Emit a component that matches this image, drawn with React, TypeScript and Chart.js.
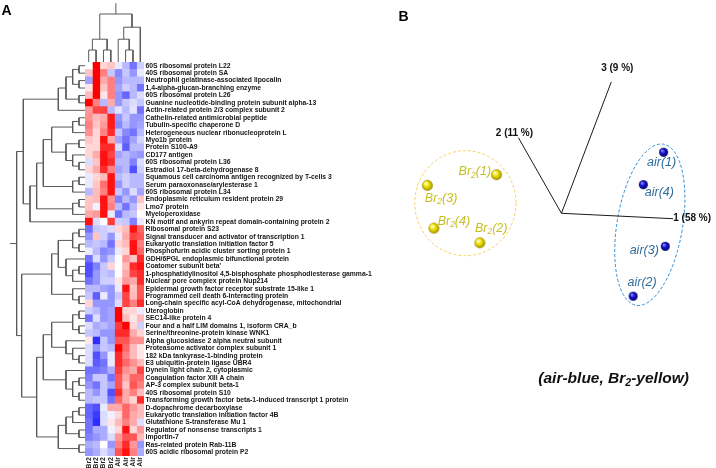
import React, { useEffect, useRef } from "react";
import { Chart, registerables } from "chart.js";
Chart.register(...registerables);

// ---------------- DATA ----------------
const PROTEINS = [
  "60S ribosomal protein L22",
  "40S ribosomal protein SA",
  "Neutrophil gelatinase-associated lipocalin",
  "1,4-alpha-glucan-branching enzyme",
  "60S ribosomal protein L26",
  "Guanine nucleotide-binding protein subunit alpha-13",
  "Actin-related protein 2/3 complex subunit 2",
  "Cathelin-related antimicrobial peptide",
  "Tubulin-specific chaperone D",
  "Heterogeneous nuclear ribonucleoprotein L",
  "Myo1b protein",
  "Protein S100-A9",
  "CD177 antigen",
  "60S ribosomal protein L36",
  "Estradiol 17-beta-dehydrogenase 8",
  "Squamous cell carcinoma antigen recognized by T-cells 3",
  "Serum paraoxonase/arylesterase 1",
  "60S ribosomal protein L34",
  "Endoplasmic reticulum resident protein 29",
  "Lmo7 protein",
  "Myeloperoxidase",
  "KN motif and ankyrin repeat domain-containing protein 2",
  "Ribosomal protein S23",
  "Signal transducer and activator of transcription 1",
  "Eukaryotic translation initiation factor 5",
  "Phosphofurin acidic cluster sorting protein 1",
  "GDH/6PGL endoplasmic bifunctional protein",
  "Coatomer subunit beta'",
  "1-phosphatidylinositol 4,5-bisphosphate phosphodiesterase gamma-1",
  "Nuclear pore complex protein Nup214",
  "Epidermal growth factor receptor substrate 15-like 1",
  "Programmed cell death 6-interacting protein",
  "Long-chain specific acyl-CoA dehydrogenase, mitochondrial",
  "Uteroglobin",
  "SEC14-like protein 4",
  "Four and a half LIM domains 1, isoform CRA_b",
  "Serine/threonine-protein kinase WNK1",
  "Alpha glucosidase 2 alpha neutral subunit",
  "Proteasome activator complex subunit 1",
  "182 kDa tankyrase-1-binding protein",
  "E3 ubiquitin-protein ligase UBR4",
  "Dynein light chain 2, cytoplasmic",
  "Coagulation factor XIII A chain",
  "AP-3 complex subunit beta-1",
  "40S ribosomal protein S10",
  "Transforming growth factor beta-1-induced transcript 1 protein",
  "D-dopachrome decarboxylase",
  "Eukaryotic translation initiation factor 4B",
  "Glutathione S-transferase Mu 1",
  "Regulator of nonsense transcripts 1",
  "Importin-7",
  "Ras-related protein Rab-11B",
  "60S acidic ribosomal protein P2",
];

const SAMPLE_LABELS = ["Br2", "Br2", "Br2", "Br2", "Air", "Air", "Air", "Air"];

// scaled expression (z-score like), one array per sample column, rows in PROTEINS order
const BR2_S1 = [0, 0.7, -1.3, 0.3, 0.8, 3, 1.2, 1.3, 1.5, 1.3, 0.7, 0.5, 0.5, -0.5, 0.5, -0.3, -0.3, -1, 0.7, 0.7, 1, 2.8, -2, -1.5, -1, -0.3, -2, -2.5, -2.5, -2, -1, -0.8, 0.5, -0.7, -2, -0.5, -0.8, 0.3, -0.5, -0.5, -0.5, -2, -1.8, -1.5, -1, -1, -2.2, -2.2, -2, -2, -1.8, -1.2, -1.5];
const BR2_S2 = [3, 3, 3, 3, 3, 1.5, 2.2, 0.8, 0.7, 0.5, 0.5, 0.5, 1, 0.7, 1, 0.5, 0.7, 0.8, 0.8, -0.2, 1.2, -0.5, -0.8, 0.7, -0.8, -1, -0.5, -1.8, -1.5, -1.5, -1, -2.3, -1.5, -1, -0.5, -1.2, -1, -3, -1.5, -2.5, -2.3, -2, -0.8, -2, -1.5, -0.8, -2.5, -2.8, -3, -1.2, -1.5, -1, -1.2];
const BR2_S3 = [0.5, 1.5, 1, 0.7, 0.3, -1, 2.2, 1, 1.2, 1.5, 2.8, 2.5, 2.8, 2.8, 2.5, 0.8, 1.7, 1.5, 2.8, 2.8, 2.8, 0, -0.7, -0.7, -1, -1.7, -1.5, -0.8, -0.8, -0.7, -1.3, -0.3, -1.5, -1.5, -1.5, -1, -1.5, -0.8, -0.8, -1.5, -2, -1.8, -0.8, -0.8, -0.8, -0.8, -0.3, -0.5, -0.5, -1.2, -1.2, 0, -0.5];
const BR2_S4 = [0.7, -0.8, 1.5, 1.5, 1.5, 1, -1, 2.7, 2.7, 2.5, 1, 2.5, 2.2, 2.5, 1.5, 2.8, 2.8, 2.8, 1.3, 1.5, -0.3, 2.3, -0.5, -1.5, -2, -1.5, -0.8, 0.5, -1, -0.7, -1.5, -1.5, -1.5, -1.3, -1.3, -1.3, -1.5, -1.5, -1, -0.3, -0.3, -1.2, -2, -1.3, -2.5, -2, 1, -0.2, 0.3, -0.2, -0.5, -1.5, -1];
const AIR_S1 = [-0.3, -1.7, -1.5, -1.3, -1.5, -1.5, -0.4, -1.5, -1.7, -0.8, -1.3, -0.5, -1.3, -1, -1.3, -1, -1.5, -0.8, -1.8, -1, -2, -0.7, 0.5, -0.3, 0.5, -0.3, 0, 0, 0, 0.3, -0.3, -0.8, -0.5, 3, 3, 2.3, 2.5, 2, 3, 2.5, 2.5, 2.3, 2, 2, 2.5, 1.8, 1, 0.5, 0.8, 0.5, 1.2, 1.5, 2];
const AIR_S2 = [-1, -0.8, -1, -0.7, -2.2, -0.8, -1, -0.8, -1, -1.7, -2, -2.3, -1, -1, -1, -0.7, -0.7, -1.5, -1, -2, -1, -0.8, 0.8, 1, 0.8, 0.5, 1.2, 0.8, 1, 1.2, 2.8, 2.2, 2.2, 0.5, 0.8, 3, 2.5, 2, 1.8, 1.5, 1.8, 1.3, 1, 0.7, 1, 1, 1.8, 1.8, 1.5, 2.8, 2, 2.5, 2.8];
const AIR_S3 = [-2, -1.5, -1, -1, -1, -0.5, -0.4, -1.5, -1.5, -2, -1.3, -1, -1.3, -1.8, -2.5, -1, -1, -0.5, -1.5, -1, -0.8, -1.8, 2.8, 2.2, 2.8, 2.8, 0.7, 2.5, 2.2, 1, 0.7, 0.8, 1.5, 0.5, 0.3, 0.5, 1, 1.3, 0.8, 0.8, 1.3, 1, 1.8, 2, 1.5, 0.5, 1.2, 1, 1, 0.5, 2, 1.2, 1.5];
const AIR_S4 = [-0.7, -0.3, -1, -2, -0.5, -0.8, -2, -1.5, -1.3, -1, -0.6, -1, -1.5, -0.5, -0.7, -1, -1, -1.3, 0.7, 0.3, 0, -0.3, 1.8, 2, 1.5, 1.8, 2.5, 2.8, 2.5, 2.5, 2, 2, 2.5, -0.3, 0.8, -0.7, 0.5, 1.3, 0.3, 0.3, 0.8, 2.2, 1.8, 1.5, 0.8, 2.5, 0.8, 0.8, -0.5, 1.2, 0.8, -1.5, -1.2];
const SAMPLE_COLUMNS = [BR2_S1, BR2_S2, BR2_S3, BR2_S4, AIR_S1, AIR_S2, AIR_S3, AIR_S4];

// dendrograms: leaf index or [merge height, left, right]
type Tree = number | [number, Tree, Tree];
const ROW_TREE: Tree = [10.25,
  [9.25,
    [4.0, [2.85, [1.85, [0.9, 0, 1], [0.9, 2, 3]], [0.9, 4, 5]], 6],
    [8.25,
      [7.25,
        [6.25,
          [5.0, [1.85, [0.9, 7, 8], 9], [2.85, [0.9, 10, 11], [1.85, 12, [0.9, 13, 14]]]],
          [1.85, [0.9, 15, 16], 17]],
        [1.85, [0.9, 18, 19], 20]],
      21]],
  [9.5,
    [5.0,
      [4.0, [1.85, [0.9, 22, 23], [0.9, 24, 25]], [2.85, 26, [1.85, [0.9, 27, 28], 29]]],
      [1.85, 30, [0.9, 31, 32]]],
    [7.25,
      [6.25,
        [5.0, [1.85, [0.9, 33, 34], [0.9, 35, 36]], [2.85, 37, [1.85, 38, [0.9, 39, 40]]]],
        [2.85, 41, [1.85, [0.9, 42, 43], [0.9, 44, 45]]]],
      [4.0, [2.85, [1.85, [0.9, 46, 47], 48], [0.9, 49, 50]], [0.9, 51, 52]]]]];
const COL_TREE: Tree = [4.0, [1.9, [1.0, 0, 1], [1.0, 2, 3]], [2.9, [1.9, 4, [1.0, 5, 6]], 7]];

// PCA (projected 3D scores)
const PC_AXIS_NAMES = ["1 (58 %)", "2 (11 %)", "3 (9 %)"];
const PC_AXIS_END_X = [116, -44.6, 51.7];
const PC_AXIS_END_Y = [-5.6, 77.7, 135];
const BR2_NAMES = ["Br2(1)", "Br2(2)", "Br2(3)", "Br2(4)"];
const BR2_PC_X = [-67.3, -84.6, -139, -132.3];
const BR2_PC_Y = [39.7, -30.3, 28.7, -15.3];
const AIR_NAMES = ["air(1)", "air(2)", "air(3)", "air(4)"];
const AIR_PC_X = [106, 74.4, 107.7, 85];
const AIR_PC_Y = [62.7, -85.3, -34, 29.4];
const CAPTION = "(air-blue, Br2-yellow)";

// ---------------- STYLE / LAYOUT ----------------
const FONT = '"Liberation Sans", Arial, sans-serif';
const HM_LEFT = 85, HM_TOP = 62, HM_BOTTOM_GAP = 12, HM_CANVAS_W = 400, HM_LABEL_W = 256;
const ROW_DENDRO_PX_PER_UNIT = 6.67;
const COL_DENDRO_PX_PER_UNIT = 12;
const BR2_LABEL_OFF = [[-21.7, -3], [11.3, -14.3], [13.7, 12.7], [20, -7]];
const AIR_LABEL_OFF = [[-2, 10.7], [9, -14], [-21, 4.3], [16, 7.7]];
const PC_LABEL_OFF = [[0, 0, "left"], [-4, -4.3, "center"], [6, -13.7, "center"]];
const ELLIPSES = [
  { cx: -99.6, cy: 10.4, rx: 52.5, ry: 54, rot: 0, color: "#f5cf5f", dash: [3, 2] },
  { cx: 91.7, cy: -11.8, rx: 34, ry: 84, rot: 0.168, color: "#2a8ad6", dash: [3, 2] },
];

function heatColor(v: number) {
  const t = Math.max(-1, Math.min(1, v / 3));
  if (t >= 0) {
    const c = Math.round(255 * (1 - t));
    return `rgb(255,${c},${c})`;
  }
  const a = -t;
  const c = Math.round(255 - 210 * a);
  return `rgb(${c},${c},255)`;
}

function dendroPoints(tree: Tree, stub: number, horizontal: boolean) {
  const pts: { x: number; y: number }[] = [];
  const P = (pos: number, h: number) => (horizontal ? { x: h, y: pos } : { x: pos, y: h });
  const walk = (n: Tree): { pos: number; h: number } => {
    if (typeof n === "number") return { pos: n, h: 0 };
    const [h, l, r] = n;
    const a = walk(l), b = walk(r);
    pts.push(P(a.pos, a.h), P(a.pos, h), P(b.pos, h), P(b.pos, b.h), { x: NaN, y: NaN });
    return { pos: (a.pos + b.pos) / 2, h };
  };
  const root = walk(tree);
  pts.push(P(root.pos, root.h), P(root.pos, root.h + stub));
  return pts;
}

function drawRich(ctx: CanvasRenderingContext2D, text: string, x: number, y: number,
  size: number, style: string, align: string) {
  const m = text.match(/^(.*?Br)2(.*)$/);
  const parts = m ? [{ t: m[1], s: false }, { t: "2", s: true }, { t: m[2], s: false }] : [{ t: text, s: false }];
  const fontOf = (sub: boolean) => `${style} ${sub ? size * 0.68 : size}px ${FONT}`;
  let total = 0;
  const widths = parts.map((p) => { ctx.font = fontOf(p.s); const w = ctx.measureText(p.t).width; total += w; return w; });
  let cx = align === "center" ? x - total / 2 : align === "right" ? x - total : x;
  ctx.textAlign = "left";
  ctx.textBaseline = "middle";
  parts.forEach((p, i) => {
    ctx.font = fontOf(p.s);
    ctx.fillText(p.t, cx, p.s ? y + size * 0.28 : y);
    cx += widths[i];
  });
}

function makeSphere(r: number, light: string, base: string, dark: string) {
  const size = Math.ceil(r * 2) + 2;
  const cv = document.createElement("canvas");
  cv.width = size; cv.height = size;
  const g = cv.getContext("2d")!;
  const c = size / 2;
  const grad = g.createRadialGradient(c - r * 0.35, c - r * 0.4, r * 0.1, c, c, r);
  grad.addColorStop(0, light);
  grad.addColorStop(0.45, base);
  grad.addColorStop(1, dark);
  g.fillStyle = grad;
  g.beginPath();
  g.arc(c, c, r, 0, Math.PI * 2);
  g.fill();
  return cv;
}

const baseOpts = {
  responsive: false,
  animation: false as const,
  devicePixelRatio: 1,
  events: [] as any[],
};

export default function App() {
  const hmRef = useRef<HTMLCanvasElement>(null);
  const rdRef = useRef<HTMLCanvasElement>(null);
  const cdRef = useRef<HTMLCanvasElement>(null);
  const pcaRef = useRef<HTMLCanvasElement>(null);

  useEffect(() => {
    document.body.style.margin = "0";
    const charts: Chart[] = [];

    // ---------- heatmap ----------
    charts.push(new Chart(hmRef.current!, {
      type: "bar",
      data: {
        labels: PROTEINS,
        datasets: SAMPLE_COLUMNS.map((col, i) => ({
          label: SAMPLE_LABELS[i],
          data: col.map(() => 1),
          backgroundColor: col.map(heatColor),
          borderWidth: 0,
          categoryPercentage: 1,
          barPercentage: 1,
        })),
      },
      options: {
        ...baseOpts,
        indexAxis: "y",
        layout: { padding: { left: HM_LEFT, top: HM_TOP, right: 0, bottom: 0 } },
        plugins: { legend: { display: false }, tooltip: { enabled: false } },
        scales: {
          x: { stacked: true, min: 0, max: SAMPLE_LABELS.length, display: false },
          x2: {
            type: "category", axis: "x", position: "bottom", labels: SAMPLE_LABELS, offset: true,
            grid: { display: false, drawTicks: false }, border: { display: false },
            ticks: { autoSkip: false, minRotation: 90, maxRotation: 90, padding: 1, color: "#222",
              font: { family: FONT, size: 7, weight: "bold" } },
            afterFit: (s: any) => { s.height = HM_BOTTOM_GAP; },
          },
          y: {
            stacked: true, position: "right",
            grid: { display: false, drawTicks: false }, border: { display: false },
            ticks: { autoSkip: false, padding: 1.5, color: "#161616",
              font: { family: FONT, size: 6.8, weight: "bold" } },
            afterFit: (s: any) => { s.width = HM_LABEL_W; },
          },
        } as any,
      },
    } as any));

    // ---------- row dendrogram ----------
    const rdW = HM_LEFT + 1;
    charts.push(new Chart(rdRef.current!, {
      type: "scatter",
      data: {
        datasets: [{
          data: dendroPoints(ROW_TREE, 1.0, true),
          showLine: true, pointRadius: 0, borderColor: "#5a5a5a", borderWidth: 1, clip: false,
        }],
      },
      options: {
        ...baseOpts,
        layout: { padding: { left: 0, right: 1, top: HM_TOP, bottom: HM_BOTTOM_GAP } },
        plugins: { legend: { display: false }, tooltip: { enabled: false } },
        scales: {
          x: { type: "linear", reverse: true, min: 0, max: HM_LEFT / ROW_DENDRO_PX_PER_UNIT, display: false },
          y: { type: "linear", reverse: true, min: -0.5, max: PROTEINS.length - 0.5, display: false },
        },
      },
      plugins: [{
        id: "panelA",
        afterDraw(chart: any) {
          const ctx = chart.ctx;
          ctx.save();
          ctx.fillStyle = "#000";
          ctx.font = `bold 14px ${FONT}`;
          ctx.textAlign = "left";
          ctx.textBaseline = "alphabetic";
          ctx.fillText("A", 1.5, 15);
          ctx.restore();
        },
      }],
    } as any));

    // ---------- column dendrogram ----------
    charts.push(new Chart(cdRef.current!, {
      type: "scatter",
      data: {
        datasets: [{
          data: dendroPoints(COL_TREE, 0.9, false),
          showLine: true, pointRadius: 0, borderColor: "#5a5a5a", borderWidth: 1, clip: false,
        }],
      },
      options: {
        ...baseOpts,
        layout: { padding: 0 },
        plugins: { legend: { display: false }, tooltip: { enabled: false } },
        scales: {
          x: { type: "linear", min: -0.5, max: SAMPLE_LABELS.length - 0.5, display: false },
          y: { type: "linear", min: 0, max: HM_TOP / COL_DENDRO_PX_PER_UNIT, display: false },
        },
      },
    } as any));

    // ---------- PCA ----------
    const ySphere = makeSphere(5.4, "#ffffd8", "#eee400", "#9c8c00");
    const bSphere = makeSphere(4.5, "#8c8cff", "#1414d2", "#00005a");
    const axisPts: { x: number; y: number }[] = [];
    PC_AXIS_END_X.forEach((x, i) => {
      axisPts.push({ x: 0, y: 0 }, { x, y: PC_AXIS_END_Y[i] }, { x: NaN, y: NaN });
    });
    charts.push(new Chart(pcaRef.current!, {
      type: "scatter",
      data: {
        datasets: [
          { data: axisPts, showLine: true, pointRadius: 0, borderColor: "#1a1a1a", borderWidth: 1, clip: false },
          { data: BR2_PC_X.map((x, i) => ({ x, y: BR2_PC_Y[i] })), pointStyle: ySphere, pointRadius: 5.4, clip: false },
          { data: AIR_PC_X.map((x, i) => ({ x, y: AIR_PC_Y[i] })), pointStyle: bSphere, pointRadius: 4.5, clip: false },
        ],
      },
      options: {
        ...baseOpts,
        layout: { padding: 0 },
        plugins: { legend: { display: false }, tooltip: { enabled: false } },
        scales: {
          x: { type: "linear", min: -202.3, max: 153.7, display: false },
          y: { type: "linear", min: -255.3, max: 212.7, display: false },
        },
      },
      plugins: [{
        id: "pcaDecor",
        beforeDatasetsDraw(chart: any) {
          const { ctx, scales: { x, y } } = chart;
          const kx = x.getPixelForValue(1) - x.getPixelForValue(0);
          const ky = y.getPixelForValue(0) - y.getPixelForValue(1);
          ctx.save();
          ELLIPSES.forEach((e) => {
            ctx.beginPath();
            ctx.setLineDash(e.dash);
            ctx.strokeStyle = e.color;
            ctx.lineWidth = 1;
            ctx.ellipse(x.getPixelForValue(e.cx), y.getPixelForValue(e.cy), e.rx * kx, e.ry * ky, e.rot, 0, Math.PI * 2);
            ctx.stroke();
          });
          ctx.restore();
        },
        afterDatasetsDraw(chart: any) {
          const { ctx, scales: { x, y }, chartArea } = chart;
          ctx.save();
          ctx.fillStyle = "#111";
          PC_AXIS_NAMES.forEach((name, i) => {
            const [dx, dy, al] = PC_LABEL_OFF[i] as [number, number, string];
            drawRich(ctx, name, x.getPixelForValue(PC_AXIS_END_X[i]) + dx, y.getPixelForValue(PC_AXIS_END_Y[i]) + dy, 10, "bold", al);
          });
          ctx.fillStyle = "#c6bf22";
          BR2_NAMES.forEach((name, i) => {
            const [dx, dy] = BR2_LABEL_OFF[i];
            drawRich(ctx, name, x.getPixelForValue(BR2_PC_X[i]) + dx, y.getPixelForValue(BR2_PC_Y[i]) + dy, 12.5, "italic", "center");
          });
          ctx.fillStyle = "#2f6c9c";
          AIR_NAMES.forEach((name, i) => {
            const [dx, dy] = AIR_LABEL_OFF[i];
            drawRich(ctx, name, x.getPixelForValue(AIR_PC_X[i]) + dx, y.getPixelForValue(AIR_PC_Y[i]) + dy, 12.5, "italic", "center");
          });
          ctx.fillStyle = "#111";
          drawRich(ctx, CAPTION, chartArea.left + 247.2, chartArea.top + 372.3, 15.5, "italic bold", "center");
          ctx.fillStyle = "#000";
          ctx.font = `bold 14px ${FONT}`;
          ctx.textAlign = "left";
          ctx.textBaseline = "alphabetic";
          ctx.fillText("B", chartArea.left + 32, chartArea.top + 14.5);
          ctx.restore();
        },
      }],
    } as any));

    return () => charts.forEach((c) => c.destroy());
  }, []);

  const abs = (l: number, t: number, w: number, h: number): React.CSSProperties => ({
    position: "absolute", left: l, top: t, width: w, height: h,
  });

  return (
    <div style={{ position: "relative", width: 716, height: 468, overflow: "hidden", background: "#fff" }}>
      <canvas ref={hmRef} width={HM_CANVAS_W} height={468} style={abs(0, 0, HM_CANVAS_W, 468)} />
      <canvas ref={rdRef} width={HM_LEFT + 1} height={468} style={abs(0, 0, HM_LEFT + 1, 468)} />
      <canvas ref={cdRef} width={59} height={HM_TOP} style={abs(HM_LEFT, 0, 59, HM_TOP)} />
      <canvas ref={pcaRef} width={356} height={468} style={abs(360, 0, 356, 468)} />
    </div>
  );
}
